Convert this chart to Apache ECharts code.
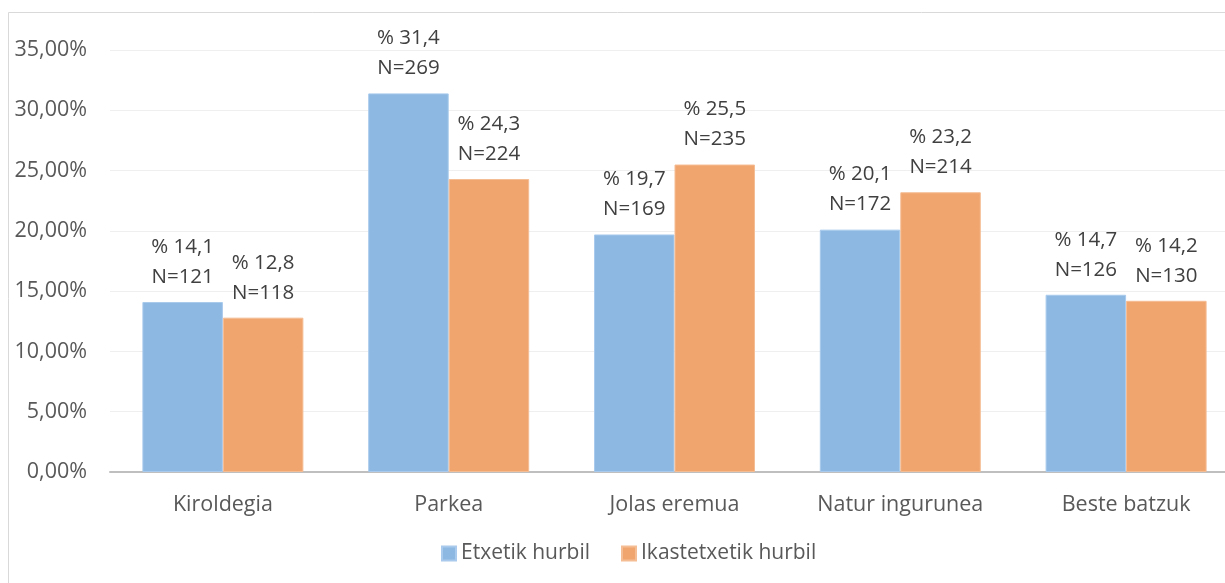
<!DOCTYPE html>
<html>
<head>
<meta charset="utf-8">
<script src="https://cdn.jsdelivr.net/npm/echarts@6/dist/echarts.min.js"></script>
<style>
  html, body { margin: 0; padding: 0; background: #fff; overflow: hidden; }
  #chart { width: 1225px; height: 583px; }
</style>
</head>
<body>
<div id="chart"></div>
<script>
// Place categories
const categories = ['Kiroldegia', 'Parkea', 'Jolas eremua', 'Natur ingurunea', 'Beste batzuk'];
// Share of answers (fraction) and counts for each series
const etxetikPct = [0.141, 0.314, 0.197, 0.201, 0.147];
const etxetikN = [121, 269, 169, 172, 126];
const ikastetxetikPct = [0.128, 0.243, 0.255, 0.232, 0.142];
const ikastetxetikN = [118, 224, 235, 214, 130];
const yTicks = { min: 0, max: 0.35, interval: 0.05 };

const fontFamily = '"Open Sans", "DejaVu Sans", sans-serif';

function labelFor(pcts, ns) {
  return function (p) {
    const v = (pcts[p.dataIndex] * 100).toFixed(1).replace('.', ',');
    return '% ' + v + '\nN=' + ns[p.dataIndex];
  };
}

const chart = echarts.init(document.getElementById('chart'), null, { renderer: 'canvas' });
chart.setOption({
  animation: false,
  backgroundColor: '#ffffff',
  graphic: [{
    type: 'rect',
    shape: { x: 8.5, y: 12.5, width: 1260, height: 620 },
    style: { fill: 'none', stroke: '#d9d9d9', lineWidth: 1 },
    silent: true,
    z: -1
  }],
  // plot area runs past the right edge of the canvas
  grid: {
    left: 110, width: 1129, top: 50, height: 422,
    containLabel: false, outerBoundsMode: 'none'
  },
  legend: {
    left: 436,
    top: 538,
    itemWidth: 14,
    itemHeight: 14,
    itemGap: 31,
    icon: 'rect',
    textStyle: { fontFamily, fontSize: 21, color: '#595959' },
    data: ['Etxetik hurbil', 'Ikastetxetik hurbil']
  },
  xAxis: {
    type: 'category',
    data: categories,
    axisLine: { lineStyle: { color: '#bfbfbf', width: 2 } },
    axisTick: { show: false },
    axisLabel: { fontFamily, fontSize: 21.5, color: '#595959', margin: 22 }
  },
  yAxis: {
    type: 'value',
    min: yTicks.min,
    max: yTicks.max,
    interval: yTicks.interval,
    axisLine: { show: false },
    axisTick: { show: false },
    splitLine: { lineStyle: { color: '#efefef', width: 1 } },
    axisLabel: {
      fontFamily, fontSize: 21.5, color: '#595959', margin: 23,
      formatter: v => (v * 100).toFixed(2).replace('.', ',') + '%'
    }
  },
  series: [
    {
      name: 'Etxetik hurbil',
      type: 'bar',
      data: etxetikPct,
      barGap: '0%',
      barCategoryGap: '28.7%',
      itemStyle: { color: '#8db8e2', borderColor: '#a9caec', borderWidth: 1 },
      label: {
        show: true, position: 'top', distance: 10,
        fontFamily, fontSize: 20.5, color: '#404040', lineHeight: 30,
        formatter: labelFor(etxetikPct, etxetikN)
      }
    },
    {
      name: 'Ikastetxetik hurbil',
      type: 'bar',
      data: ikastetxetikPct,
      itemStyle: { color: '#f0a46e', borderColor: '#f5bd94', borderWidth: 1 },
      label: {
        show: true, position: 'top', distance: 10,
        fontFamily, fontSize: 20.5, color: '#404040', lineHeight: 30,
        formatter: labelFor(ikastetxetikPct, ikastetxetikN)
      }
    }
  ]
});
</script>
</body>
</html>
